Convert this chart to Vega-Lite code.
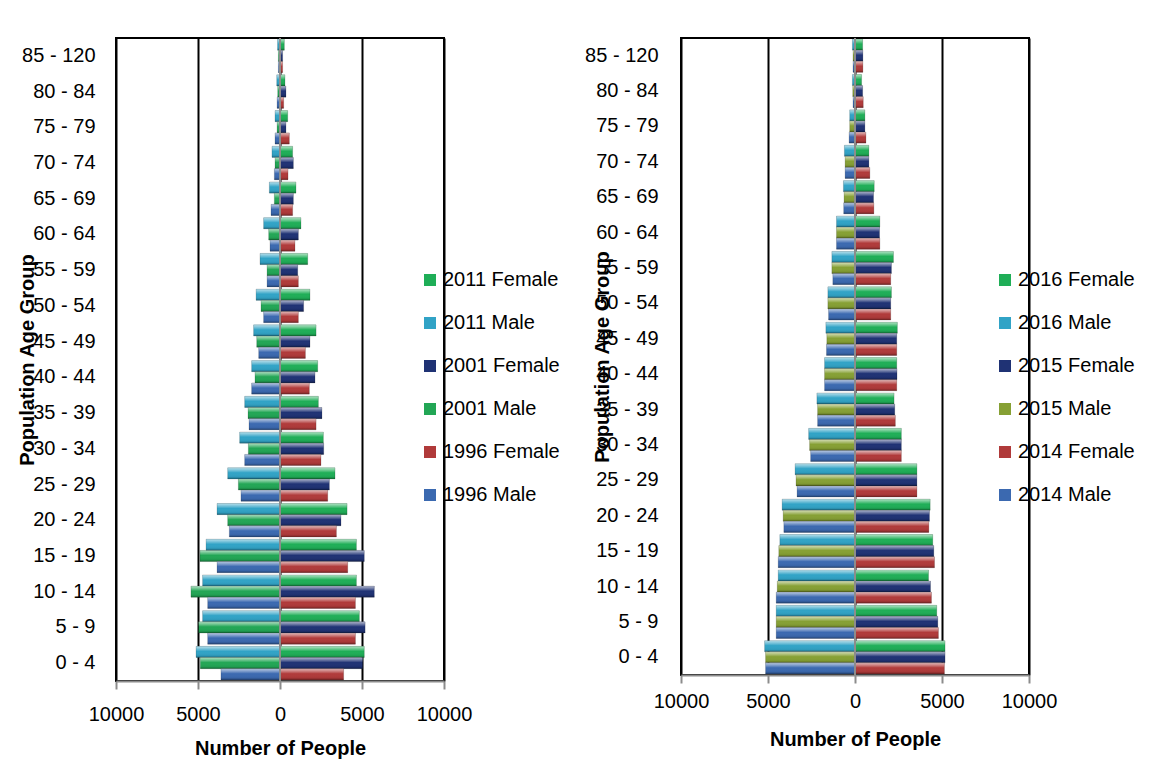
{
  "$schema": "https://vega.github.io/schema/vega-lite/v6.json",
  "background": "white",
  "padding": {"left": 16, "top": 36, "right": 5, "bottom": 5},
  "bounds": "flush",
  "spacing": 237,
  "config": {
    "font": "Liberation Sans",
    "view": {"stroke": "black", "strokeWidth": 2},
    "legend": {"labelFont": "Liberation Sans", "labelFontSize": 20, "labelColor": "black"}
  },
  "datasets": {
    "census": [
      {"age": "85 - 120", "year": "2011", "series": "2011 Male", "people": -150},
      {"age": "85 - 120", "year": "2011", "series": "2011 Female", "people": 265},
      {"age": "85 - 120", "year": "2001", "series": "2001 Male", "people": -100},
      {"age": "85 - 120", "year": "2001", "series": "2001 Female", "people": 160},
      {"age": "85 - 120", "year": "1996", "series": "1996 Male", "people": -100},
      {"age": "85 - 120", "year": "1996", "series": "1996 Female", "people": 160},
      {"age": "80 - 84", "year": "2011", "series": "2011 Male", "people": -200},
      {"age": "80 - 84", "year": "2011", "series": "2011 Female", "people": 305},
      {"age": "80 - 84", "year": "2001", "series": "2001 Male", "people": -140},
      {"age": "80 - 84", "year": "2001", "series": "2001 Female", "people": 365},
      {"age": "80 - 84", "year": "1996", "series": "1996 Male", "people": -180},
      {"age": "80 - 84", "year": "1996", "series": "1996 Female", "people": 225},
      {"age": "75 - 79", "year": "2011", "series": "2011 Male", "people": -305},
      {"age": "75 - 79", "year": "2011", "series": "2011 Female", "people": 470},
      {"age": "75 - 79", "year": "2001", "series": "2001 Male", "people": -180},
      {"age": "75 - 79", "year": "2001", "series": "2001 Female", "people": 365},
      {"age": "75 - 79", "year": "1996", "series": "1996 Male", "people": -305},
      {"age": "75 - 79", "year": "1996", "series": "1996 Female", "people": 570},
      {"age": "70 - 74", "year": "2011", "series": "2011 Male", "people": -490},
      {"age": "70 - 74", "year": "2011", "series": "2011 Female", "people": 770},
      {"age": "70 - 74", "year": "2001", "series": "2001 Male", "people": -305},
      {"age": "70 - 74", "year": "2001", "series": "2001 Female", "people": 815},
      {"age": "70 - 74", "year": "1996", "series": "1996 Male", "people": -345},
      {"age": "70 - 74", "year": "1996", "series": "1996 Female", "people": 490},
      {"age": "65 - 69", "year": "2011", "series": "2011 Male", "people": -650},
      {"age": "65 - 69", "year": "2011", "series": "2011 Female", "people": 975},
      {"age": "65 - 69", "year": "2001", "series": "2001 Male", "people": -345},
      {"age": "65 - 69", "year": "2001", "series": "2001 Female", "people": 815},
      {"age": "65 - 69", "year": "1996", "series": "1996 Male", "people": -550},
      {"age": "65 - 69", "year": "1996", "series": "1996 Female", "people": 770},
      {"age": "60 - 64", "year": "2011", "series": "2011 Male", "people": -1000},
      {"age": "60 - 64", "year": "2011", "series": "2011 Female", "people": 1280},
      {"age": "60 - 64", "year": "2001", "series": "2001 Male", "people": -690},
      {"age": "60 - 64", "year": "2001", "series": "2001 Female", "people": 1120},
      {"age": "60 - 64", "year": "1996", "series": "1996 Male", "people": -610},
      {"age": "60 - 64", "year": "1996", "series": "1996 Female", "people": 915},
      {"age": "55 - 59", "year": "2011", "series": "2011 Male", "people": -1220},
      {"age": "55 - 59", "year": "2011", "series": "2011 Female", "people": 1690},
      {"age": "55 - 59", "year": "2001", "series": "2001 Male", "people": -790},
      {"age": "55 - 59", "year": "2001", "series": "2001 Female", "people": 1080},
      {"age": "55 - 59", "year": "1996", "series": "1996 Male", "people": -790},
      {"age": "55 - 59", "year": "1996", "series": "1996 Female", "people": 1120},
      {"age": "50 - 54", "year": "2011", "series": "2011 Male", "people": -1460},
      {"age": "50 - 54", "year": "2011", "series": "2011 Female", "people": 1830},
      {"age": "50 - 54", "year": "2001", "series": "2001 Male", "people": -1160},
      {"age": "50 - 54", "year": "2001", "series": "2001 Female", "people": 1440},
      {"age": "50 - 54", "year": "1996", "series": "1996 Male", "people": -1000},
      {"age": "50 - 54", "year": "1996", "series": "1996 Female", "people": 1120},
      {"age": "45 - 49", "year": "2011", "series": "2011 Male", "people": -1610},
      {"age": "45 - 49", "year": "2011", "series": "2011 Female", "people": 2200},
      {"age": "45 - 49", "year": "2001", "series": "2001 Male", "people": -1420},
      {"age": "45 - 49", "year": "2001", "series": "2001 Female", "people": 1830},
      {"age": "45 - 49", "year": "1996", "series": "1996 Male", "people": -1300},
      {"age": "45 - 49", "year": "1996", "series": "1996 Female", "people": 1550},
      {"age": "40 - 44", "year": "2011", "series": "2011 Male", "people": -1730},
      {"age": "40 - 44", "year": "2011", "series": "2011 Female", "people": 2300},
      {"age": "40 - 44", "year": "2001", "series": "2001 Male", "people": -1525},
      {"age": "40 - 44", "year": "2001", "series": "2001 Female", "people": 2135},
      {"age": "40 - 44", "year": "1996", "series": "1996 Male", "people": -1730},
      {"age": "40 - 44", "year": "1996", "series": "1996 Female", "people": 1790},
      {"age": "35 - 39", "year": "2011", "series": "2011 Male", "people": -2155},
      {"age": "35 - 39", "year": "2011", "series": "2011 Female", "people": 2340},
      {"age": "35 - 39", "year": "2001", "series": "2001 Male", "people": -1950},
      {"age": "35 - 39", "year": "2001", "series": "2001 Female", "people": 2560},
      {"age": "35 - 39", "year": "1996", "series": "1996 Male", "people": -1890},
      {"age": "35 - 39", "year": "1996", "series": "1996 Female", "people": 2200},
      {"age": "30 - 34", "year": "2011", "series": "2011 Male", "people": -2460},
      {"age": "30 - 34", "year": "2011", "series": "2011 Female", "people": 2645},
      {"age": "30 - 34", "year": "2001", "series": "2001 Male", "people": -1930},
      {"age": "30 - 34", "year": "2001", "series": "2001 Female", "people": 2665},
      {"age": "30 - 34", "year": "1996", "series": "1996 Male", "people": -2155},
      {"age": "30 - 34", "year": "1996", "series": "1996 Female", "people": 2500},
      {"age": "25 - 29", "year": "2011", "series": "2011 Male", "people": -3190},
      {"age": "25 - 29", "year": "2011", "series": "2011 Female", "people": 3355},
      {"age": "25 - 29", "year": "2001", "series": "2001 Male", "people": -2540},
      {"age": "25 - 29", "year": "2001", "series": "2001 Female", "people": 3010},
      {"age": "25 - 29", "year": "1996", "series": "1996 Male", "people": -2380},
      {"age": "25 - 29", "year": "1996", "series": "1996 Female", "people": 2910},
      {"age": "20 - 24", "year": "2011", "series": "2011 Male", "people": -3840},
      {"age": "20 - 24", "year": "2011", "series": "2011 Female", "people": 4090},
      {"age": "20 - 24", "year": "2001", "series": "2001 Male", "people": -3190},
      {"age": "20 - 24", "year": "2001", "series": "2001 Female", "people": 3720},
      {"age": "20 - 24", "year": "1996", "series": "1996 Male", "people": -3090},
      {"age": "20 - 24", "year": "1996", "series": "1996 Female", "people": 3440},
      {"age": "15 - 19", "year": "2011", "series": "2011 Male", "people": -4510},
      {"age": "15 - 19", "year": "2011", "series": "2011 Female", "people": 4660},
      {"age": "15 - 19", "year": "2001", "series": "2001 Male", "people": -4880},
      {"age": "15 - 19", "year": "2001", "series": "2001 Female", "people": 5140},
      {"age": "15 - 19", "year": "1996", "series": "1996 Male", "people": -3840},
      {"age": "15 - 19", "year": "1996", "series": "1996 Female", "people": 4130},
      {"age": "10 - 14", "year": "2011", "series": "2011 Male", "people": -4720},
      {"age": "10 - 14", "year": "2011", "series": "2011 Female", "people": 4660},
      {"age": "10 - 14", "year": "2001", "series": "2001 Male", "people": -5430},
      {"age": "10 - 14", "year": "2001", "series": "2001 Female", "people": 5750},
      {"age": "10 - 14", "year": "1996", "series": "1996 Male", "people": -4410},
      {"age": "10 - 14", "year": "1996", "series": "1996 Female", "people": 4600},
      {"age": "5 - 9", "year": "2011", "series": "2011 Male", "people": -4720},
      {"age": "5 - 9", "year": "2011", "series": "2011 Female", "people": 4840},
      {"age": "5 - 9", "year": "2001", "series": "2001 Male", "people": -4960},
      {"age": "5 - 9", "year": "2001", "series": "2001 Female", "people": 5190},
      {"age": "5 - 9", "year": "1996", "series": "1996 Male", "people": -4410},
      {"age": "5 - 9", "year": "1996", "series": "1996 Female", "people": 4600},
      {"age": "0 - 4", "year": "2011", "series": "2011 Male", "people": -5120},
      {"age": "0 - 4", "year": "2011", "series": "2011 Female", "people": 5140},
      {"age": "0 - 4", "year": "2001", "series": "2001 Male", "people": -4860},
      {"age": "0 - 4", "year": "2001", "series": "2001 Female", "people": 5040},
      {"age": "0 - 4", "year": "1996", "series": "1996 Male", "people": -3600},
      {"age": "0 - 4", "year": "1996", "series": "1996 Female", "people": 3880}
    ],
    "estimates": [
      {"age": "85 - 120", "year": "2016", "series": "2016 Male", "people": -150},
      {"age": "85 - 120", "year": "2016", "series": "2016 Female", "people": 440},
      {"age": "85 - 120", "year": "2015", "series": "2015 Male", "people": -115},
      {"age": "85 - 120", "year": "2015", "series": "2015 Female", "people": 455},
      {"age": "85 - 120", "year": "2014", "series": "2014 Male", "people": -115},
      {"age": "85 - 120", "year": "2014", "series": "2014 Female", "people": 455},
      {"age": "80 - 84", "year": "2016", "series": "2016 Male", "people": -150},
      {"age": "80 - 84", "year": "2016", "series": "2016 Female", "people": 380},
      {"age": "80 - 84", "year": "2015", "series": "2015 Male", "people": -130},
      {"age": "80 - 84", "year": "2015", "series": "2015 Female", "people": 440},
      {"age": "80 - 84", "year": "2014", "series": "2014 Male", "people": -115},
      {"age": "80 - 84", "year": "2014", "series": "2014 Female", "people": 475},
      {"age": "75 - 79", "year": "2016", "series": "2016 Male", "people": -305},
      {"age": "75 - 79", "year": "2016", "series": "2016 Female", "people": 570},
      {"age": "75 - 79", "year": "2015", "series": "2015 Male", "people": -305},
      {"age": "75 - 79", "year": "2015", "series": "2015 Female", "people": 570},
      {"age": "75 - 79", "year": "2014", "series": "2014 Male", "people": -340},
      {"age": "75 - 79", "year": "2014", "series": "2014 Female", "people": 630},
      {"age": "70 - 74", "year": "2016", "series": "2016 Male", "people": -610},
      {"age": "70 - 74", "year": "2016", "series": "2016 Female", "people": 800},
      {"age": "70 - 74", "year": "2015", "series": "2015 Male", "people": -570},
      {"age": "70 - 74", "year": "2015", "series": "2015 Female", "people": 800},
      {"age": "70 - 74", "year": "2014", "series": "2014 Male", "people": -570},
      {"age": "70 - 74", "year": "2014", "series": "2014 Female", "people": 855},
      {"age": "65 - 69", "year": "2016", "series": "2016 Male", "people": -665},
      {"age": "65 - 69", "year": "2016", "series": "2016 Female", "people": 1105},
      {"age": "65 - 69", "year": "2015", "series": "2015 Male", "people": -630},
      {"age": "65 - 69", "year": "2015", "series": "2015 Female", "people": 1065},
      {"age": "65 - 69", "year": "2014", "series": "2014 Male", "people": -650},
      {"age": "65 - 69", "year": "2014", "series": "2014 Female", "people": 1085},
      {"age": "60 - 64", "year": "2016", "series": "2016 Male", "people": -1065},
      {"age": "60 - 64", "year": "2016", "series": "2016 Female", "people": 1430},
      {"age": "60 - 64", "year": "2015", "series": "2015 Male", "people": -1065},
      {"age": "60 - 64", "year": "2015", "series": "2015 Female", "people": 1410},
      {"age": "60 - 64", "year": "2014", "series": "2014 Male", "people": -1065},
      {"age": "60 - 64", "year": "2014", "series": "2014 Female", "people": 1430},
      {"age": "55 - 59", "year": "2016", "series": "2016 Male", "people": -1330},
      {"age": "55 - 59", "year": "2016", "series": "2016 Female", "people": 2210},
      {"age": "55 - 59", "year": "2015", "series": "2015 Male", "people": -1330},
      {"age": "55 - 59", "year": "2015", "series": "2015 Female", "people": 2095},
      {"age": "55 - 59", "year": "2014", "series": "2014 Male", "people": -1275},
      {"age": "55 - 59", "year": "2014", "series": "2014 Female", "people": 2055},
      {"age": "50 - 54", "year": "2016", "series": "2016 Male", "people": -1560},
      {"age": "50 - 54", "year": "2016", "series": "2016 Female", "people": 2095},
      {"age": "50 - 54", "year": "2015", "series": "2015 Male", "people": -1560},
      {"age": "50 - 54", "year": "2015", "series": "2015 Female", "people": 2055},
      {"age": "50 - 54", "year": "2014", "series": "2014 Male", "people": -1520},
      {"age": "50 - 54", "year": "2014", "series": "2014 Female", "people": 2055},
      {"age": "45 - 49", "year": "2016", "series": "2016 Male", "people": -1675},
      {"age": "45 - 49", "year": "2016", "series": "2016 Female", "people": 2435},
      {"age": "45 - 49", "year": "2015", "series": "2015 Male", "people": -1620},
      {"age": "45 - 49", "year": "2015", "series": "2015 Female", "people": 2400},
      {"age": "45 - 49", "year": "2014", "series": "2014 Male", "people": -1640},
      {"age": "45 - 49", "year": "2014", "series": "2014 Female", "people": 2400},
      {"age": "40 - 44", "year": "2016", "series": "2016 Male", "people": -1750},
      {"age": "40 - 44", "year": "2016", "series": "2016 Female", "people": 2400},
      {"age": "40 - 44", "year": "2015", "series": "2015 Male", "people": -1750},
      {"age": "40 - 44", "year": "2015", "series": "2015 Female", "people": 2415},
      {"age": "40 - 44", "year": "2014", "series": "2014 Male", "people": -1750},
      {"age": "40 - 44", "year": "2014", "series": "2014 Female", "people": 2400},
      {"age": "35 - 39", "year": "2016", "series": "2016 Male", "people": -2190},
      {"age": "35 - 39", "year": "2016", "series": "2016 Female", "people": 2245},
      {"age": "35 - 39", "year": "2015", "series": "2015 Male", "people": -2150},
      {"age": "35 - 39", "year": "2015", "series": "2015 Female", "people": 2285},
      {"age": "35 - 39", "year": "2014", "series": "2014 Male", "people": -2150},
      {"age": "35 - 39", "year": "2014", "series": "2014 Female", "people": 2320},
      {"age": "30 - 34", "year": "2016", "series": "2016 Male", "people": -2665},
      {"age": "30 - 34", "year": "2016", "series": "2016 Female", "people": 2665},
      {"age": "30 - 34", "year": "2015", "series": "2015 Male", "people": -2610},
      {"age": "30 - 34", "year": "2015", "series": "2015 Female", "people": 2665},
      {"age": "30 - 34", "year": "2014", "series": "2014 Male", "people": -2550},
      {"age": "30 - 34", "year": "2014", "series": "2014 Female", "people": 2665},
      {"age": "25 - 29", "year": "2016", "series": "2016 Male", "people": -3445},
      {"age": "25 - 29", "year": "2016", "series": "2016 Female", "people": 3560},
      {"age": "25 - 29", "year": "2015", "series": "2015 Male", "people": -3390},
      {"age": "25 - 29", "year": "2015", "series": "2015 Female", "people": 3560},
      {"age": "25 - 29", "year": "2014", "series": "2014 Male", "people": -3330},
      {"age": "25 - 29", "year": "2014", "series": "2014 Female", "people": 3560},
      {"age": "20 - 24", "year": "2016", "series": "2016 Male", "people": -4190},
      {"age": "20 - 24", "year": "2016", "series": "2016 Female", "people": 4320},
      {"age": "20 - 24", "year": "2015", "series": "2015 Male", "people": -4130},
      {"age": "20 - 24", "year": "2015", "series": "2015 Female", "people": 4280},
      {"age": "20 - 24", "year": "2014", "series": "2014 Male", "people": -4090},
      {"age": "20 - 24", "year": "2014", "series": "2014 Female", "people": 4245},
      {"age": "15 - 19", "year": "2016", "series": "2016 Male", "people": -4320},
      {"age": "15 - 19", "year": "2016", "series": "2016 Female", "people": 4470},
      {"age": "15 - 19", "year": "2015", "series": "2015 Male", "people": -4380},
      {"age": "15 - 19", "year": "2015", "series": "2015 Female", "people": 4530},
      {"age": "15 - 19", "year": "2014", "series": "2014 Male", "people": -4415},
      {"age": "15 - 19", "year": "2014", "series": "2014 Female", "people": 4570},
      {"age": "10 - 14", "year": "2016", "series": "2016 Male", "people": -4415},
      {"age": "10 - 14", "year": "2016", "series": "2016 Female", "people": 4225},
      {"age": "10 - 14", "year": "2015", "series": "2015 Male", "people": -4470},
      {"age": "10 - 14", "year": "2015", "series": "2015 Female", "people": 4340},
      {"age": "10 - 14", "year": "2014", "series": "2014 Male", "people": -4530},
      {"age": "10 - 14", "year": "2014", "series": "2014 Female", "people": 4395},
      {"age": "5 - 9", "year": "2016", "series": "2016 Male", "people": -4530},
      {"age": "5 - 9", "year": "2016", "series": "2016 Female", "people": 4700},
      {"age": "5 - 9", "year": "2015", "series": "2015 Male", "people": -4530},
      {"age": "5 - 9", "year": "2015", "series": "2015 Female", "people": 4760},
      {"age": "5 - 9", "year": "2014", "series": "2014 Male", "people": -4530},
      {"age": "5 - 9", "year": "2014", "series": "2014 Female", "people": 4795},
      {"age": "0 - 4", "year": "2016", "series": "2016 Male", "people": -5195},
      {"age": "0 - 4", "year": "2016", "series": "2016 Female", "people": 5175},
      {"age": "0 - 4", "year": "2015", "series": "2015 Male", "people": -5140},
      {"age": "0 - 4", "year": "2015", "series": "2015 Female", "people": 5175},
      {"age": "0 - 4", "year": "2014", "series": "2014 Male", "people": -5140},
      {"age": "0 - 4", "year": "2014", "series": "2014 Female", "people": 5140}
    ]
  },
  "hconcat": [
    {
      "width": 328,
      "height": 643,
      "layer": [
        {
          "data": {"name": "census"},
          "mark": {"type": "bar"},
          "encoding": {
            "y": {
              "field": "age", "type": "nominal",
              "sort": ["85 - 120", "80 - 84", "75 - 79", "70 - 74", "65 - 69", "60 - 64", "55 - 59", "50 - 54", "45 - 49", "40 - 44", "35 - 39", "30 - 34", "25 - 29", "20 - 24", "15 - 19", "10 - 14", "5 - 9", "0 - 4"],
              "scale": {"paddingInner": 0.06, "paddingOuter": 0.03},
              "axis": {
                "title": "Population Age Group", "titleFontSize": 20, "titleFontWeight": "bold", "titleColor": "black",
                "titleX": -79, "labelFontSize": 20, "labelColor": "black", "labelPadding": 21,
                "ticks": false, "domain": false
              }
            },
            "yOffset": {"field": "year", "type": "nominal", "sort": "descending", "scale": {"paddingInner": 0, "paddingOuter": 0}},
            "x": {
              "field": "people", "type": "quantitative",
              "scale": {"domain": [-10000, 10000]},
              "axis": {
                "title": "Number of People", "titleFontSize": 20, "titleFontWeight": "bold", "titleColor": "black", "titlePadding": 14,
                "values": [-10000, -5000, 0, 5000, 10000],
                "labelExpr": "format(abs(datum.value), 'd')",
                "labelFontSize": 20, "labelColor": "black", "labelPadding": 15, "labelFlush": false, "labelOverlap": false,
                "grid": true, "gridColor": "black", "gridWidth": 2,
                "domainColor": "#8c8c8c", "domainWidth": 2,
                "tickColor": "#8c8c8c", "tickWidth": 2, "tickSize": 8
              }
            },
            "color": {
              "field": "series", "type": "nominal",
              "scale": {
                "domain": ["2011 Female", "2011 Male", "2001 Female", "2001 Male", "1996 Female", "1996 Male"],
                "range": ["#1fae57", "#31a3c6", "#1f3274", "#22a655", "#b03a3a", "#3b69b0"]
              },
              "legend": {
                "orient": "none", "legendX": 304, "legendY": 232, "title": null,
                "symbolType": "square", "symbolSize": 144, "symbolStrokeWidth": 0,
                "rowPadding": 23, "labelOffset": 3
              }
            }
          }
        },
        {
          "data": {"name": "census"},
          "mark": {
            "type": "bar",
            "stroke": "rgba(0,0,0,0.22)", "strokeWidth": 0.7,
            "color": {
              "gradient": "linear", "x1": 0, "y1": 0, "x2": 0, "y2": 1,
              "stops": [
                {"offset": 0, "color": "rgba(255,255,255,0.65)"},
                {"offset": 0.25, "color": "rgba(255,255,255,0.3)"},
                {"offset": 0.45, "color": "rgba(255,255,255,0)"},
                {"offset": 0.8, "color": "rgba(0,0,0,0.05)"},
                {"offset": 1, "color": "rgba(0,0,0,0.35)"}
              ]
            }
          },
          "encoding": {
            "y": {"field": "age", "type": "nominal",
              "sort": ["85 - 120", "80 - 84", "75 - 79", "70 - 74", "65 - 69", "60 - 64", "55 - 59", "50 - 54", "45 - 49", "40 - 44", "35 - 39", "30 - 34", "25 - 29", "20 - 24", "15 - 19", "10 - 14", "5 - 9", "0 - 4"]},
            "yOffset": {"field": "year", "type": "nominal", "sort": "descending"},
            "x": {"field": "people", "type": "quantitative"}
          }
        },
        {
          "data": {"values": [{}]},
          "mark": {"type": "rule", "color": "#8c8c8c", "strokeWidth": 2},
          "encoding": {"x": {"datum": 0}}
        }
      ]
    },
    {
      "width": 348,
      "height": 637,
      "layer": [
        {
          "data": {"name": "estimates"},
          "mark": {"type": "bar"},
          "encoding": {
            "y": {
              "field": "age", "type": "nominal",
              "sort": ["85 - 120", "80 - 84", "75 - 79", "70 - 74", "65 - 69", "60 - 64", "55 - 59", "50 - 54", "45 - 49", "40 - 44", "35 - 39", "30 - 34", "25 - 29", "20 - 24", "15 - 19", "10 - 14", "5 - 9", "0 - 4"],
              "scale": {"paddingInner": 0.06, "paddingOuter": 0.03},
              "axis": {
                "title": "Population Age Group", "titleFontSize": 20, "titleFontWeight": "bold", "titleColor": "black",
                "titleX": -69, "labelFontSize": 20, "labelColor": "black", "labelPadding": 23,
                "ticks": false, "domain": false
              }
            },
            "yOffset": {"field": "year", "type": "nominal", "sort": "descending", "scale": {"paddingInner": 0, "paddingOuter": 0}},
            "x": {
              "field": "people", "type": "quantitative",
              "scale": {"domain": [-10000, 10000]},
              "axis": {
                "title": "Number of People", "titleFontSize": 20, "titleFontWeight": "bold", "titleColor": "black", "titlePadding": 18,
                "values": [-10000, -5000, 0, 5000, 10000],
                "labelExpr": "format(abs(datum.value), 'd')",
                "labelFontSize": 20, "labelColor": "black", "labelPadding": 8, "labelFlush": false, "labelOverlap": false,
                "grid": true, "gridColor": "black", "gridWidth": 2,
                "domainColor": "#8c8c8c", "domainWidth": 2,
                "tickColor": "#8c8c8c", "tickWidth": 2, "tickSize": 8
              }
            },
            "color": {
              "field": "series", "type": "nominal",
              "scale": {
                "domain": ["2016 Female", "2016 Male", "2015 Female", "2015 Male", "2014 Female", "2014 Male"],
                "range": ["#1fae57", "#31a3c6", "#1f3274", "#86a034", "#b03a3a", "#3b69b0"]
              },
              "legend": {
                "orient": "none", "legendX": 314, "legendY": 232, "title": null,
                "symbolType": "square", "symbolSize": 144, "symbolStrokeWidth": 0,
                "rowPadding": 23, "labelOffset": 3
              }
            }
          }
        },
        {
          "data": {"name": "estimates"},
          "mark": {
            "type": "bar",
            "stroke": "rgba(0,0,0,0.22)", "strokeWidth": 0.7,
            "color": {
              "gradient": "linear", "x1": 0, "y1": 0, "x2": 0, "y2": 1,
              "stops": [
                {"offset": 0, "color": "rgba(255,255,255,0.65)"},
                {"offset": 0.25, "color": "rgba(255,255,255,0.3)"},
                {"offset": 0.45, "color": "rgba(255,255,255,0)"},
                {"offset": 0.8, "color": "rgba(0,0,0,0.05)"},
                {"offset": 1, "color": "rgba(0,0,0,0.35)"}
              ]
            }
          },
          "encoding": {
            "y": {"field": "age", "type": "nominal",
              "sort": ["85 - 120", "80 - 84", "75 - 79", "70 - 74", "65 - 69", "60 - 64", "55 - 59", "50 - 54", "45 - 49", "40 - 44", "35 - 39", "30 - 34", "25 - 29", "20 - 24", "15 - 19", "10 - 14", "5 - 9", "0 - 4"]},
            "yOffset": {"field": "year", "type": "nominal", "sort": "descending"},
            "x": {"field": "people", "type": "quantitative"}
          }
        },
        {
          "data": {"values": [{}]},
          "mark": {"type": "rule", "color": "#8c8c8c", "strokeWidth": 2},
          "encoding": {"x": {"datum": 0}}
        }
      ]
    }
  ],
  "resolve": {
    "scale": {"color": "independent", "x": "independent", "y": "independent", "yOffset": "independent"},
    "legend": {"color": "independent"}
  }
}
